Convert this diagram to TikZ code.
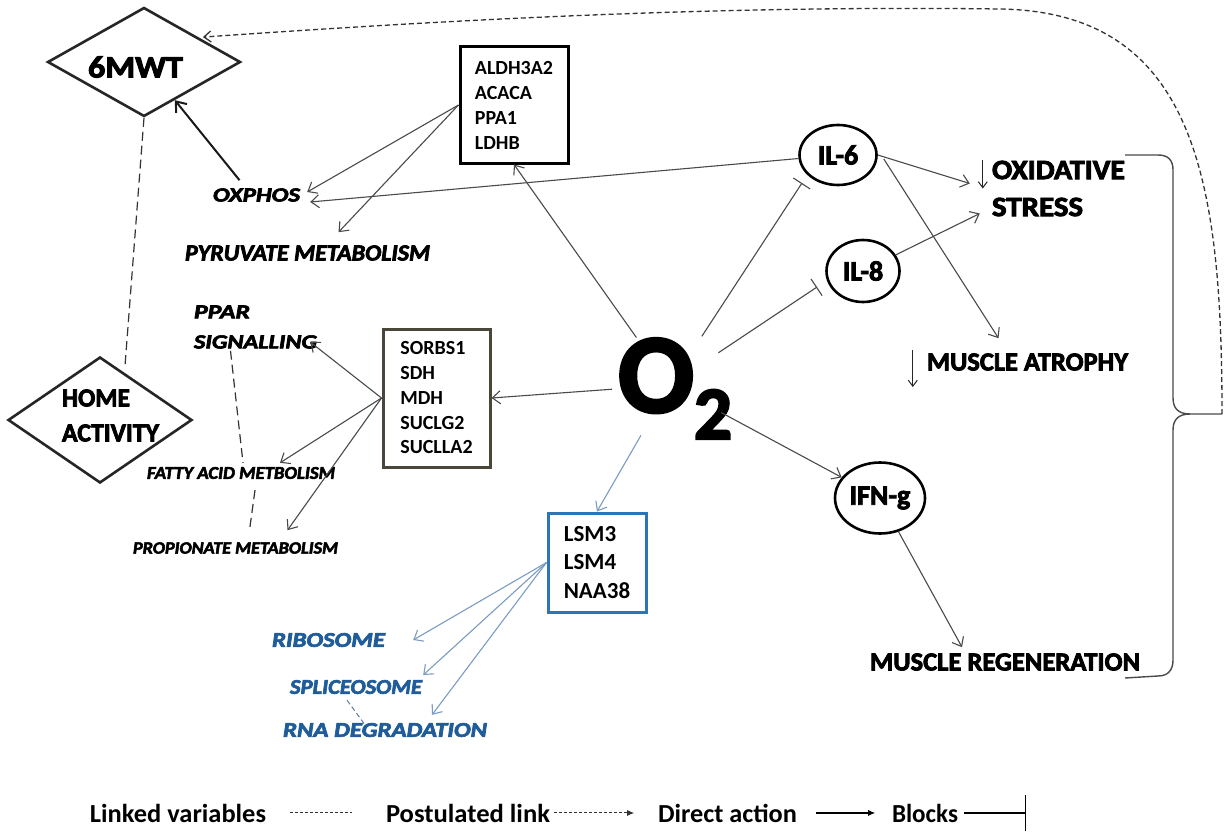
\documentclass[tikz,border=0pt]{standalone}
\usepackage{fontspec}
\usepackage{graphicx}
\setmainfont{Carlito}[BoldFeatures={FakeBold=3}, BoldItalicFeatures={FakeBold=3}]
\newfontfamily\boxfont{Carlito}[UprightFont=*-Bold]
\usetikzlibrary{arrows.meta,shapes.geometric,calc}
\definecolor{agrey}{HTML}{4A4A4A}
\definecolor{ablue}{HTML}{7C9CC4}
\definecolor{tblue}{HTML}{1F5C99}
\definecolor{bblue}{HTML}{2E75B6}
\definecolor{bbrown}{HTML}{4A463A}
\newcommand\fitw[2]{\resizebox{#1pt}{\height}{#2}}
\newcommand\fsz[2]{\fontsize{#1pt}{#2pt}\selectfont}
\begin{document}
\begin{tikzpicture}[x=1pt,y=-1pt,
 lbl/.style={inner sep=2pt, font=\bfseries},
 itl/.style={inner sep=2pt, font=\bfseries\itshape},
 blbl/.style={itl, text=tblue},
 gbox/.style={rectangle, line width=3pt, align=left, inner sep=0pt},
 ell/.style={ellipse, draw=black, line width=2.6pt, inner sep=0pt, font=\bfseries\fsz{28}{28}},
 dia/.style={diamond, draw=black!85, line width=2.6pt, inner sep=0pt},
 garrow/.style={draw=agrey, line width=1.1pt, -{Straight Barb[length=8pt,width=13pt]}},
 barrow/.style={draw=ablue, line width=1.1pt, -{Straight Barb[length=8pt,width=13pt]}},
 blockline/.style={draw=agrey, line width=1.1pt, -{Bar[width=20pt]}},
 linkdash/.style={draw=black!80, line width=1.2pt, dash pattern=on 9pt off 5pt},
 postlink/.style={draw=black!80, line width=1.3pt, dash pattern=on 5pt off 3pt, -{Straight Barb[length=7pt,width=11pt]}},
 downarr/.style={draw=black!85, line width=1pt, -{Straight Barb[length=6pt,width=9pt]}},
 leg/.style={inner sep=0pt, anchor=base, font=\boxfont\fsz{26}{26}},
]
\useasboundingbox (0,0) rectangle (1225,832);
\fill[white] (0,0) rectangle (1225,832);

% diamonds
\node[dia, minimum width=193pt, minimum height=109pt] (mwt) at (144,62) {};
\node[lbl] (mwtt) at (135.5,67) {\fsz{31}{31}\fitw{95}{6MWT}};
\node[dia, minimum width=184pt, minimum height=126pt] (home) at (100,420) {};
\node[lbl, align=left, font=\bfseries\fsz{26}{35}] (homet) at (110.5,415.5) {\fitw{68}{HOME}\\\fitw{97}{ACTIVITY}};

% pathway labels
\node[itl] (oxphos) at (256.5,195) {\fsz{20}{20}\fitw{87}{OXPHOS}};
\node[itl] (pyr) at (307.5,253) {\fsz{23}{23}\fitw{245}{PYRUVATE METABOLISM}};
\node[itl, align=left, font=\bfseries\itshape\fsz{20}{30}] (ppar) at (255.5,327) {\fitw{56}{PPAR}\\\fitw{123}{SIGNALLING}};
\node[itl] (fatty) at (241,473) {\fsz{18}{18}\fitw{188}{FATTY ACID METBOLISM}};
\node[itl] (prop) at (235.5,548) {\fsz{17}{17}\fitw{205}{PROPIONATE METABOLISM}};
\node[blbl] (rib) at (328.5,640) {\fsz{21}{21}\fitw{113}{RIBOSOME}};
\node[blbl] (spl) at (356,687) {\fsz{21}{21}\fitw{132}{SPLICEOSOME}};
\node[blbl] (rna) at (385,730) {\fsz{21}{21}\fitw{204}{RNA DEGRADATION}};

% gene boxes
\node[gbox, draw=black, minimum width=108pt, minimum height=116pt, font=\boxfont\fsz{20}{25}] (aldh) at (514,105) {ALDH3A2\\ACACA\\PPA1\\LDHB};
\node[gbox, draw=bbrown, minimum width=107pt, minimum height=138pt, font=\boxfont\fsz{20}{24.75}] (sorbs) at (436.5,398) {SORBS1\\SDH\\MDH\\SUCLG2\\SUCLLA2};
\node[gbox, draw=bblue, minimum width=98pt, minimum height=99pt, font=\boxfont\fsz{23}{28.5}] (lsm) at (597,562.5) {LSM3\\LSM4\\NAA38};

% cytokines
\node[ell, minimum width=77pt, minimum height=60pt] (il6) at (838,155) {IL-6};
\node[ell, minimum width=73pt, minimum height=62pt] (il8) at (863,271) {IL-8};
\node[ell, minimum width=90pt, minimum height=71pt] (ifng) at (880,498) {IFN-g};

% O2
\node[circle, minimum size=116pt, inner sep=0pt] (o2) at (670,385) {};
\node[anchor=base west, inner sep=0pt, font=\bfseries] (o2t) at (618,412) {\fsz{112}{112}O\raisebox{-0.24em}{\fsz{75}{75}2}};

% outcomes
\node[lbl, align=left, font=\bfseries\fsz{28}{37}] (ox) at (1058.5,188.5) {\fitw{133}{OXIDATIVE}\\\fitw{91}{STRESS}};
\node[lbl] (atr) at (1027.5,362) {\fsz{26}{26}\fitw{201}{MUSCLE ATROPHY}};
\node[lbl] (reg) at (1005,662) {\fsz{26}{26}\fitw{270}{MUSCLE REGENERATION}};
\draw[downarr] ([shift={(-7,-28.5)}]ox.west) -- ([shift={(-7,0)}]ox.west);
\draw[downarr] ([shift={(-12,-12)}]atr.west) -- ([shift={(-12,25)}]atr.west);

% brace
\coordinate (bt) at (1222,414);
\draw[agrey, line width=1.4pt] (1125,155) -- (1158,155) .. controls (1168,155) and (1173,160) .. (1173,170) -- (1173,398) .. controls (1173,408) and (1178,414) .. (1190,414) -- (bt);
\draw[agrey, line width=1.4pt] (1190,414) .. controls (1178,414) and (1173,420) .. (1173,430) -- (1173,660) .. controls (1173,670) and (1168,676) .. (1158,676) -- (1125,678);

% postulated link
\draw[postlink] (bt) .. controls (1222,180) and (1195,12) .. (1000,9) .. controls (700,5) and (420,22) .. ([shift={(10,3)}]mwt.north east);

% linked variables
\draw[linkdash] (mwt.south) -- ([shift={(25,10)}]home.north);
\draw[linkdash] ([shift={(-25,0)}]ppar.south) -- ([shift={(2,-2)}]fatty.north);
\draw[linkdash] ([shift={(14,9)}]fatty.south) -- ([shift={(14,-10)}]prop.north);
\draw[draw=ablue!80!black, line width=1pt, dash pattern=on 5pt off 3pt] ([shift={(-9,4)}]spl.south) -- ([shift={(-20,4)}]rna.north);

% direct actions
\draw[line width=2pt, draw=black!90, -{Straight Barb[length=9pt,width=14pt]}] ([shift={(-17,-6)}]oxphos.north) -- (mwt);
\draw[garrow] (aldh.west) -- ([shift={(5,-3)}]oxphos.east);
\draw[garrow] (aldh.west) -- ([shift={(31,-11)}]pyr.north);
\draw[garrow] (il6) -- ([shift={(8,7)}]oxphos.east);
\draw[garrow] (o2) -- (aldh.south);
\draw[blockline] (o2) -- ([shift={(-36,28)}]il6.center);
\draw[blockline] (o2) -- ([shift={(-46,16)}]il8.center);
\draw[garrow] (il6.east) -- ([shift={(-20,-5)}]ox.west);
\draw[garrow] ([shift={(6,4)}]il6.east) -- ([shift={(-29,-13)}]atr.north);
\draw[garrow] (il8) -- ([shift={(-10,25)}]ox.west);
\draw[garrow] (o2) -- (sorbs.east);
\draw[garrow] (sorbs.west) -- ([shift={(-9,15)}]ppar.east);
\draw[garrow] (sorbs.west) -- ([shift={(39,-2)}]fatty.north);
\draw[garrow] (sorbs.west) -- ([shift={(52,-10)}]prop.north);
\draw[barrow] (o2) -- (lsm.north);
\draw[barrow] (lsm.west) -- ([shift={(26,0)}]rib.east);
\draw[barrow] (lsm.west) -- ([shift={(-1,-12)}]spl.east);
\draw[barrow] (lsm.west) -- ([shift={(47,-6)}]rna.north);
\draw[garrow] (o2) -- (ifng);
\draw[garrow] (ifng) -- ([shift={(-43,-4)}]reg.north);

% legend
\node[leg] (lk) at (178,822) {\fitw{176}{Linked variables}};
\draw[draw=black!80, line width=1pt, dash pattern=on 3pt off 2pt] ([xshift=24pt]lk.east) -- ++(62,0);
\node[leg] (pl) at (468,822) {\fitw{164}{Postulated link}};
\draw[draw=black!80, line width=1pt, dash pattern=on 3pt off 2pt, -{Latex[length=7pt,width=6pt]}] ([xshift=4pt]pl.east) -- ++(80,0);
\node[leg] (da) at (727.5,822) {\fitw{139}{Direct action}};
\draw[line width=1.1pt, -{Latex[length=7pt,width=6pt]}] ([xshift=19pt]da.east) -- ++(59,0);
\node[leg] (bl) at (925,822) {\fitw{66}{Blocks}};
\draw[line width=1.1pt, -{Bar[width=36pt]}] ([xshift=6pt]bl.east) -- ++(62,0);
\end{tikzpicture}
\end{document}
